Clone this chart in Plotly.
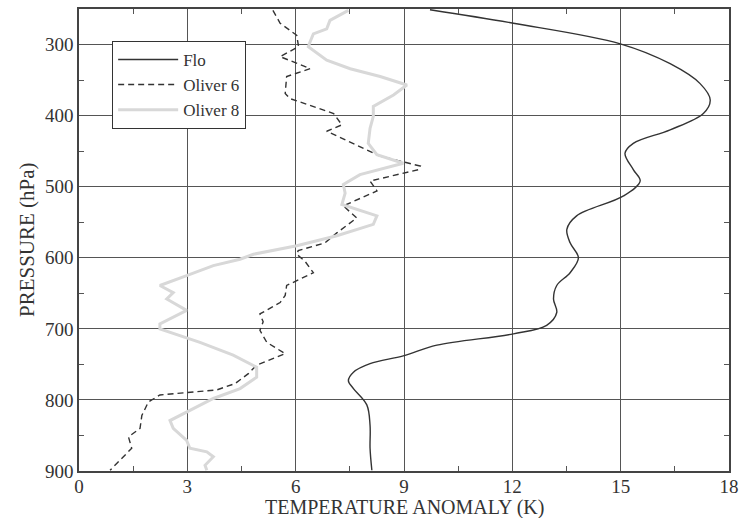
import plotly.graph_objects as go

# Flo (solid)
flo_x = [9.72, 12.03, 14.99, 16.37, 17.2, 17.48, 17.29, 16.37, 15.35, 15.12, 15.35, 15.54, 15.08,
         13.78, 13.51, 13.60, 13.83, 13.60, 13.23, 13.14, 13.23, 12.95, 12.03, 9.91, 8.98, 8.06,
         7.60, 7.46, 7.60, 7.97, 8.06, 8.06, 8.11]
flo_p = [251, 270, 299, 327, 355, 378, 397, 420, 439, 453, 476, 492, 513,
         541, 560, 579, 600, 621, 639, 658, 677, 695, 707, 723, 738, 749,
         761, 773, 784, 807, 836, 868, 899]

# Oliver 6 (dashed)
ol6_x = [5.37, 5.57, 6.03, 6.08, 5.57, 6.40, 5.75, 5.71, 5.84, 7.05, 7.28, 6.86, 8.34, 9.45,
         9.40, 8.06, 8.25, 7.32, 7.69, 7.14, 6.81, 6.07, 6.03, 6.26, 6.49, 5.75, 5.71, 5.57,
         5.01, 5.10, 5.01, 5.20, 5.71, 4.92, 4.69, 4.32, 3.81, 2.24, 1.92, 1.74, 1.69, 1.37,
         1.46, 0.86]
ol6_p = [252, 270, 287, 303, 317, 334, 345, 369, 376, 397, 413, 422, 457, 471,
         476, 492, 506, 527, 544, 565, 579, 590, 595, 605, 621, 639, 653, 663,
         679, 690, 702, 719, 735, 751, 763, 777, 786, 793, 803, 822, 840, 852,
         868, 899]

# Oliver 8 (light grey)
ol8_x = [7.46, 6.95, 6.86, 6.49, 6.40, 6.35, 6.86, 7.51, 8.34, 9.08, 8.71, 8.15, 8.15, 8.06,
         8.01, 8.25, 8.98, 7.78, 7.32, 7.37, 7.28, 8.25, 8.15, 7.14, 6.03, 4.83, 4.46, 3.72,
         2.98, 2.24, 2.61, 2.43, 2.98, 2.24, 2.24, 3.35, 4.27, 4.92, 4.92, 4.46, 3.72, 3.17,
         2.52, 2.61, 2.98, 3.07, 3.54, 3.72, 3.49, 3.54]
ol8_p = [252, 266, 278, 285, 296, 303, 322, 334, 345, 357, 371, 387, 401, 418,
         439, 455, 467, 483, 497, 509, 525, 541, 553, 569, 583, 595, 602, 611,
         625, 639, 649, 658, 674, 693, 700, 719, 737, 754, 768, 784, 798, 812,
         829, 840, 857, 868, 873, 880, 892, 899]

x_ticks = [0, 3, 6, 9, 12, 15, 18]
p_ticks = [300, 400, 500, 600, 700, 800, 900]

FONT = "Liberation Serif"
TXT = "#333333"

fig = go.Figure()
fig.add_trace(go.Scatter(x=flo_x, y=flo_p, mode="lines", name="Flo",
                         line=dict(color="#333333", width=1.4, shape="spline", smoothing=1.0)))
fig.add_trace(go.Scatter(x=ol6_x, y=ol6_p, mode="lines", name="Oliver 6",
                         line=dict(color="#333333", width=1.4, dash="6px,4px")))
fig.add_trace(go.Scatter(x=ol8_x, y=ol8_p, mode="lines", name="Oliver 8",
                         line=dict(color="#d8d8d8", width=3)))

axis_common = dict(
    showline=True, linecolor="#444444", linewidth=1.5, mirror="ticks",
    showgrid=True, gridcolor="#555555", gridwidth=1.2,
    ticks="inside", ticklen=6, tickcolor="#555555", tickwidth=1.2,
    zeroline=False, automargin=False,
    tickfont=dict(family=FONT, size=19, color=TXT),
)

fig.update_xaxes(range=[0, 18], tickvals=x_ticks, ticktext=[str(v) for v in x_ticks],
                 minor=dict(dtick=1.5, tick0=0, ticks="inside", ticklen=5, tickcolor="#555555", showgrid=False),
                 ticklabelstandoff=-3,
                 **axis_common)
fig.update_yaxes(range=[900, 250], tickvals=p_ticks, ticktext=[str(v) for v in p_ticks],
                 minor=dict(dtick=50, tick0=0, ticks="inside", ticklen=5, tickcolor="#555555", showgrid=False),
                 **axis_common)

fig.add_annotation(text="TEMPERATURE ANOMALY (K)", xref="paper", yref="paper",
                   x=0.5, y=-0.0785, xanchor="center", yanchor="middle", showarrow=False,
                   font=dict(family=FONT, size=20, color=TXT))
fig.add_annotation(text="PRESSURE (hPa)", xref="paper", yref="paper",
                   x=-0.080, y=0.5, xanchor="center", yanchor="middle", showarrow=False,
                   textangle=-90, font=dict(family=FONT, size=21, color=TXT))

fig.update_layout(
    width=751, height=518,
    margin=dict(l=79, r=22, t=9, b=47),
    paper_bgcolor="white", plot_bgcolor="white",
    font=dict(family=FONT, size=17, color=TXT),
    legend=dict(x=0.051, y=0.931, xanchor="left", yanchor="top",
                bgcolor="white", bordercolor="#333333", borderwidth=1,
                font=dict(family=FONT, size=17, color=TXT),
                tracegroupgap=0, itemwidth=60),
    showlegend=True,
)

fig.write_html("out.html")
